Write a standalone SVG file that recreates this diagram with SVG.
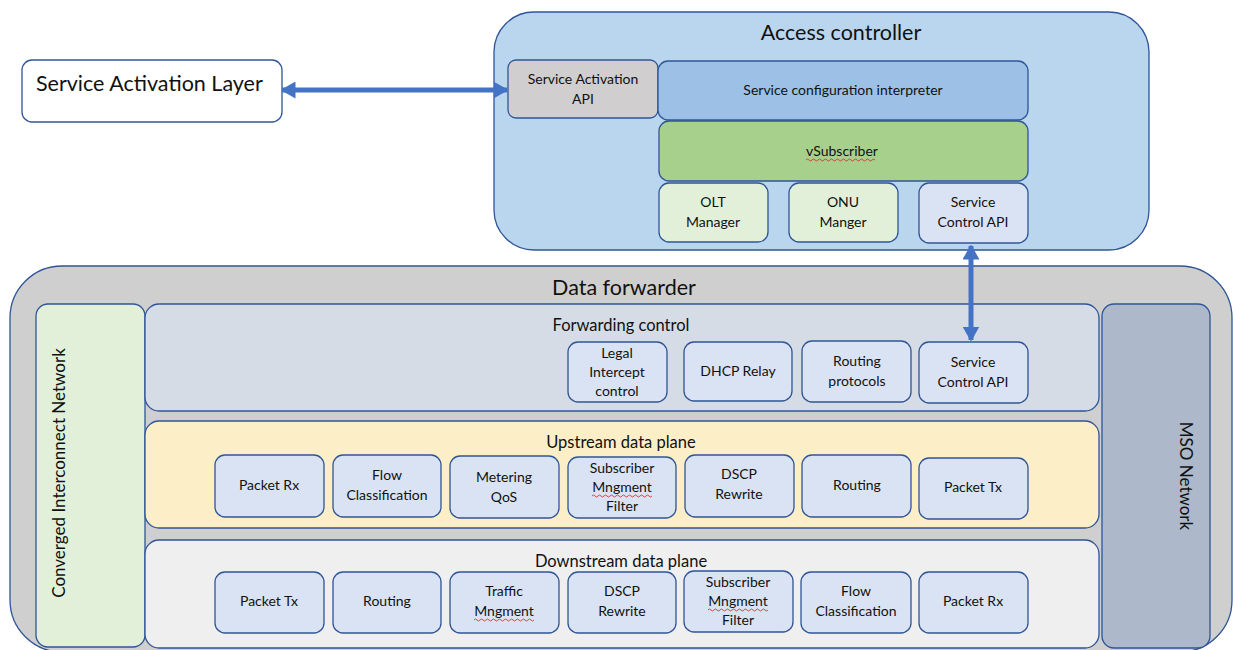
<svg xmlns="http://www.w3.org/2000/svg" width="1233" height="650" viewBox="0 0 1233 650">
<style>
text{font-family:Lato,"Liberation Sans",Arial,sans-serif;fill:#111;text-anchor:middle}
.t20{font-size:21.5px}
.t16{font-size:17px}
.t14{font-size:16.5px}
.t13{font-size:14px}
.st{stroke:#2F5597;stroke-width:1.3}
.box{fill:#DAE3F3;stroke:#2F5597;stroke-width:1.3}
.lg{fill:#E2F0D9;stroke:#2F5597;stroke-width:1.3}
.sq{fill:none;stroke:#E03030;stroke-width:0.9}
.conn{stroke:#4472C4;stroke-width:5;fill:none}
</style>
<defs>
<marker id="ah" viewBox="0 0 10 10" refX="9" refY="5" markerWidth="15" markerHeight="17" markerUnits="userSpaceOnUse" orient="auto-start-reverse" preserveAspectRatio="none">
<path d="M0,0 L10,5 L0,10 z" fill="#4472C4"/>
</marker>
</defs>
<rect width="1233" height="650" fill="#fff"/>

<g id="service-activation-layer">
<rect x="22" y="60" width="260" height="62" rx="10" fill="#fff" class="st"/>
<text x="36" y="91" class="t20" style="text-anchor:start">Service Activation Layer</text>
</g>

<g id="access-controller">
<rect x="494" y="12" width="655" height="238" rx="40" fill="#BAD6EE" class="st"/>
<text x="841" y="40" class="t20">Access controller</text>
</g>
<g id="service-activation-api">
<rect x="508" y="60" width="150" height="58" rx="8" fill="#D0CECE" class="st"/>
<text x="583" y="84" class="t13">Service Activation</text>
<text x="583" y="104" class="t13">API</text>
</g>
<g id="service-configuration-interpreter">
<rect x="658" y="61" width="370" height="59" rx="10" fill="#9DC0E6" class="st"/>
<text x="843" y="95" class="t13">Service configuration interpreter</text>
</g>
<g id="vsubscriber">
<rect x="659" y="121" width="369" height="60" rx="10" fill="#A8D08D" class="st"/>
<text x="842" y="156" class="t13">vSubscriber</text>
<path class="sq" d="M806,160 q1.5,-2 3,0 t3,0 t3,0 t3,0 t3,0 t3,0 t3,0 t3,0 t3,0 t3,0 t3,0 t3,0 t3,0 t3,0 t3,0 t3,0 t3,0 t3,0 t3,0 t3,0 t3,0 t3,0 t3,0"/>
</g>
<g id="olt-manager">
<rect x="659" y="183" width="109" height="59" rx="10" class="lg"/>
<text x="713" y="207" class="t13">OLT</text>
<text x="713" y="227" class="t13">Manager</text>
</g>
<g id="onu-manger">
<rect x="789" y="183" width="109" height="59" rx="10" class="lg"/>
<text x="843" y="207" class="t13">ONU</text>
<text x="843" y="227" class="t13">Manger</text>
</g>
<g id="ac-service-control-api">
<rect x="919" y="183" width="109" height="60" rx="10" class="box"/>
<text x="973" y="207" class="t13">Service</text>
<text x="973" y="227" class="t13">Control API</text>
</g>

<g id="data-forwarder">
<rect x="10" y="266" width="1222" height="386" rx="52" fill="#CFCFCF" class="st"/>
<text x="624" y="295" class="t20">Data forwarder</text>
</g>
<g id="converged-interconnect-network">
<rect x="36" y="304" width="109" height="343" rx="12" class="lg"/>
<text transform="translate(65,473) rotate(-90)" class="t16">Converged Interconnect Network</text>
</g>
<g id="mso-network">
<rect x="1102" y="304" width="108" height="344" rx="12" fill="#ADB9CA" class="st"/>
<text transform="translate(1180,476) rotate(90)" class="t16">MSO Network</text>
</g>

<g id="forwarding-control">
<rect x="145" y="304" width="954" height="107" rx="14" fill="#D5DCE5" class="st"/>
<text x="621" y="331" class="t14">Forwarding control</text>
</g>
<g id="legal-intercept-control">
<rect x="568" y="342" width="99" height="60" rx="10" class="box"/>
<text x="617" y="358" class="t13">Legal</text>
<text x="617" y="377" class="t13">Intercept</text>
<text x="617" y="396" class="t13">control</text>
</g>
<g id="dhcp-relay">
<rect x="684" y="342" width="108" height="59" rx="10" class="box"/>
<text x="738" y="376" class="t13">DHCP Relay</text>
</g>
<g id="routing-protocols">
<rect x="802" y="341" width="109" height="61" rx="10" class="box"/>
<text x="857" y="366" class="t13">Routing</text>
<text x="857" y="386" class="t13">protocols</text>
</g>
<g id="df-service-control-api">
<rect x="919" y="342" width="109" height="61" rx="10" class="box"/>
<text x="973" y="367" class="t13">Service</text>
<text x="973" y="387" class="t13">Control API</text>
</g>

<g id="upstream-data-plane">
<rect x="145" y="421" width="954" height="107" rx="14" fill="#FCEFC8" class="st"/>
<text x="621" y="448" class="t14">Upstream data plane</text>
</g>
<g id="up-packet-rx">
<rect x="215" y="455" width="109" height="62" rx="10" class="box"/>
<text x="269" y="490" class="t13">Packet Rx</text>
</g>
<g id="up-flow-classification">
<rect x="333" y="455" width="108" height="62" rx="10" class="box"/>
<text x="387" y="480" class="t13">Flow</text>
<text x="387" y="500" class="t13">Classification</text>
</g>
<g id="up-metering-qos">
<rect x="450" y="456" width="109" height="62" rx="10" class="box"/>
<text x="504" y="482" class="t13">Metering</text>
<text x="504" y="502" class="t13">QoS</text>
</g>
<g id="up-subscriber-mngment-filter">
<rect x="568" y="457" width="108" height="61" rx="10" class="box"/>
<text x="622" y="473" class="t13">Subscriber</text>
<text x="622" y="492" class="t13">Mngment</text>
<text x="622" y="511" class="t13">Filter</text>
<path class="sq" d="M592,496 q1.5,-2 3,0 t3,0 t3,0 t3,0 t3,0 t3,0 t3,0 t3,0 t3,0 t3,0 t3,0 t3,0 t3,0 t3,0 t3,0 t3,0 t3,0 t3,0 t3,0 t3,0"/>
</g>
<g id="up-dscp-rewrite">
<rect x="685" y="455" width="109" height="62" rx="10" class="box"/>
<text x="739" y="479" class="t13">DSCP</text>
<text x="739" y="499" class="t13">Rewrite</text>
</g>
<g id="up-routing">
<rect x="802" y="455" width="109" height="62" rx="10" class="box"/>
<text x="857" y="490" class="t13">Routing</text>
</g>
<g id="up-packet-tx">
<rect x="919" y="458" width="109" height="61" rx="10" class="box"/>
<text x="973" y="492" class="t13">Packet Tx</text>
</g>

<g id="downstream-data-plane">
<rect x="145" y="540" width="954" height="108" rx="14" fill="#EFEFEF" class="st"/>
<text x="621" y="567" class="t14">Downstream data plane</text>
</g>
<g id="dn-packet-tx">
<rect x="215" y="572" width="109" height="61" rx="10" class="box"/>
<text x="269" y="606" class="t13">Packet Tx</text>
</g>
<g id="dn-routing">
<rect x="333" y="572" width="108" height="61" rx="10" class="box"/>
<text x="387" y="606" class="t13">Routing</text>
</g>
<g id="dn-traffic-mngment">
<rect x="450" y="572" width="109" height="61" rx="10" class="box"/>
<text x="504" y="596" class="t13">Traffic</text>
<text x="504" y="616" class="t13">Mngment</text>
<path class="sq" d="M474,620 q1.5,-2 3,0 t3,0 t3,0 t3,0 t3,0 t3,0 t3,0 t3,0 t3,0 t3,0 t3,0 t3,0 t3,0 t3,0 t3,0 t3,0 t3,0 t3,0 t3,0 t3,0"/>
</g>
<g id="dn-dscp-rewrite">
<rect x="568" y="572" width="108" height="61" rx="10" class="box"/>
<text x="622" y="596" class="t13">DSCP</text>
<text x="622" y="616" class="t13">Rewrite</text>
</g>
<g id="dn-subscriber-mngment-filter">
<rect x="684" y="571" width="109" height="61" rx="10" class="box"/>
<text x="738" y="587" class="t13">Subscriber</text>
<text x="738" y="606" class="t13">Mngment</text>
<text x="738" y="625" class="t13">Filter</text>
<path class="sq" d="M708,610 q1.5,-2 3,0 t3,0 t3,0 t3,0 t3,0 t3,0 t3,0 t3,0 t3,0 t3,0 t3,0 t3,0 t3,0 t3,0 t3,0 t3,0 t3,0 t3,0 t3,0 t3,0"/>
</g>
<g id="dn-flow-classification">
<rect x="801" y="572" width="110" height="61" rx="10" class="box"/>
<text x="856" y="596" class="t13">Flow</text>
<text x="856" y="616" class="t13">Classification</text>
</g>
<g id="dn-packet-rx">
<rect x="919" y="572" width="109" height="61" rx="10" class="box"/>
<text x="973" y="606" class="t13">Packet Rx</text>
</g>

<g id="connectors">
<line class="conn" x1="282" y1="90" x2="507" y2="90" marker-start="url(#ah)" marker-end="url(#ah)"/>
<line class="conn" x1="971" y1="246" x2="971" y2="340" marker-start="url(#ah)" marker-end="url(#ah)"/>
</g>
</svg>
